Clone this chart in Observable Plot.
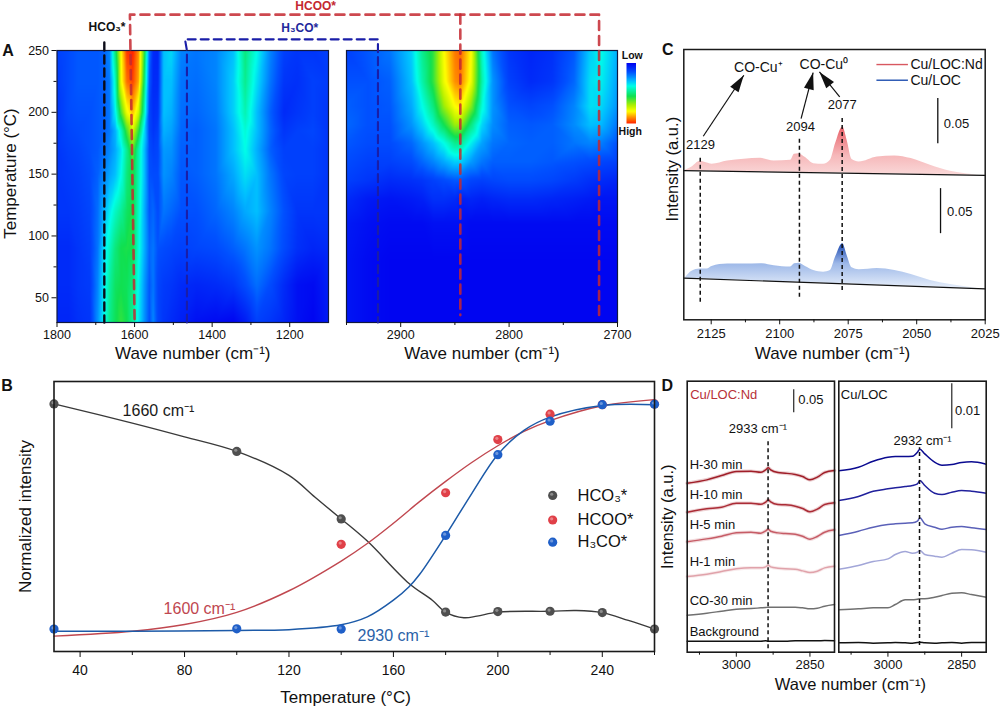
<!DOCTYPE html>
<html><head><meta charset="utf-8">
<script src="https://cdn.jsdelivr.net/npm/d3@7"></script>
<script src="https://cdn.jsdelivr.net/npm/@observablehq/plot@0.6"></script>
<style>html,body{margin:0;padding:0;background:#fff}#fig{position:relative;width:1000px;height:709px;overflow:hidden;background:#fff}</style>
</head><body><div id="fig"></div>
<script>
// ---------- Panel A data ----------
const aLeftWaves=[1800,1770,1745,1715,1695,1680,1665,1650,1635,1620,1605,1590,1575,1562,1552,1540,1525,1505,1480,1440,1390,1345,1315,1285,1250,1215,1180,1140,1100];
const aLeftTemps=[30,60,90,120,150,170,185,200,225,250];
const aLeftValues=[
[.07,.07,.09,.1,.24,.36,.48,.54,.58,.55,.47,.36,.24,.15,.22,.13,.1,.08,.06,.03,.02,.01,.05,.12,.1,.07,.03,.01,.05],
[.08,.08,.1,.11,.22,.35,.46,.53,.55,.54,.5,.37,.25,.16,.2,.13,.11,.1,.08,.07,.08,.1,.14,.19,.14,.08,.03,.02,.06],
[.08,.08,.1,.12,.2,.33,.42,.5,.55,.56,.55,.4,.28,.18,.2,.15,.14,.13,.12,.13,.14,.17,.2,.24,.2,.14,.09,.07,.08],
[.1,.1,.11,.13,.19,.28,.35,.42,.47,.53,.56,.42,.28,.16,.18,.14,.2,.18,.15,.15,.18,.22,.27,.3,.22,.15,.1,.1,.1],
[.1,.11,.12,.14,.17,.22,.26,.3,.38,.5,.57,.44,.3,.15,.14,.14,.24,.22,.16,.17,.2,.27,.34,.3,.2,.13,.12,.12,.1],
[.1,.12,.13,.15,.16,.19,.22,.27,.35,.48,.63,.45,.3,.14,.12,.13,.25,.24,.17,.17,.2,.3,.38,.28,.17,.12,.12,.12,.1],
[.1,.13,.14,.15,.16,.17,.2,.28,.42,.6,.75,.58,.34,.13,.1,.12,.28,.26,.18,.17,.2,.3,.4,.3,.18,.1,.12,.13,.1],
[.1,.14,.15,.15,.16,.17,.2,.36,.6,.78,.86,.74,.44,.13,.09,.1,.3,.28,.19,.18,.21,.32,.44,.3,.17,.08,.1,.12,.1],
[.11,.14,.16,.16,.16,.17,.2,.42,.78,.93,.97,.88,.52,.16,.08,.08,.3,.3,.2,.19,.22,.32,.48,.34,.2,.1,.09,.12,.11],
[.12,.14,.16,.16,.16,.17,.22,.5,.8,.98,1,.9,.58,.2,.08,.07,.3,.33,.22,.2,.22,.3,.5,.38,.22,.12,.1,.1,.12]];
const aRightWaves=[2950,2930,2910,2890,2880,2870,2860,2850,2845,2835,2825,2815,2800,2780,2760,2740,2725,2715,2700];
const aRightTemps=[30,80,110,130,145,160,175,190,205,225,250];
const aRightValues=[
[.04,.02,.01,.01,.01,.01,.01,.01,.01,.01,.01,.01,.01,.01,.01,.01,.01,.01,.01],
[.04,.02,.01,.01,.01,.01,.01,.01,.01,.01,.01,.01,.01,.01,.01,.01,.01,.01,.01],
[.05,.03,.02,.02,.02,.03,.03,.03,.03,.02,.02,.02,.02,.02,.02,.02,.02,.02,.02],
[.08,.05,.04,.05,.06,.09,.09,.08,.06,.07,.06,.07,.08,.08,.07,.06,.05,.04,.04],
[.12,.1,.08,.09,.1,.12,.14,.16,.16,.13,.12,.13,.14,.14,.13,.11,.09,.08,.07],
[.14,.12,.12,.14,.18,.22,.27,.32,.32,.25,.2,.17,.17,.17,.16,.15,.14,.13,.12],
[.16,.14,.14,.18,.24,.3,.38,.48,.48,.36,.26,.2,.18,.17,.17,.2,.22,.21,.15],
[.18,.15,.15,.24,.32,.42,.55,.68,.68,.5,.33,.23,.17,.16,.17,.23,.3,.29,.2],
[.17,.15,.16,.27,.38,.5,.68,.8,.82,.66,.4,.24,.15,.13,.15,.22,.34,.33,.24],
[.15,.15,.17,.3,.45,.58,.78,.9,.92,.78,.45,.24,.12,.08,.1,.18,.34,.36,.26],
[.12,.16,.2,.32,.48,.58,.8,.92,.94,.8,.42,.2,.1,.07,.09,.16,.32,.38,.28]];
const heatStops=[0,.15,.3,.38,.55,.7,.8,.9,1];
const heatColors=["#0000f0","#0050ff","#00c0ff","#00ffe8","#10e050","#b0f000","#ffff00","#ff9000","#ff2000"];

// ---------- Panel B data ----------
const bPointTemps=[30,100,140,180,200,220,240,260];
const bHco3Points=[.917,.741,.491,.146,.148,.149,.144,.083];
const bHcooPoints=[null,null,.397,.588,.785,.879,.914,.917];
const bH3coPoints=[.083,.084,.083,.43,.729,.853,.914,.916];
const bHco3CurveT=[30,60,80,100,120,130,140,150,166,175,180,187,192,200,220,230,240,250,260];
const bHco3Curve=[.917,.846,.795,.741,.652,.571,.491,.409,.252,.189,.146,.125,.131,.146,.149,.152,.144,.115,.083];
const bHcooCurveT=[30,60,80,100,120,140,150,160,170,180,190,200,210,220,240,260];
const bHcooCurve=[.057,.075,.1,.145,.225,.335,.4,.475,.555,.63,.7,.762,.815,.855,.91,.933];
const bH3coCurveT=[30,60,100,120,140,150,160,166,170,180,190,200,210,220,240,260];
const bH3coCurve=[.075,.075,.078,.081,.099,.128,.19,.24,.285,.43,.585,.73,.819,.868,.911,.914];

// ---------- Panel C data ----------
const cWaves=[2134.4,2132,2129,2126.5,2124.7,2119,2113,2107,2102,2096,2094.6,2093,2090.6,2087.6,2084,2081.5,2079.6,2077,2075.4,2073.6,2071,2064.4,2058,2052,2045,2037.7,2031.6,2028];
const cNdSignal=[.1659,.1696,.1759,.174,.1726,.1762,.1781,.1792,.1762,.177,.1837,.1844,.18,.1733,.1726,.177,.1956,.214,.1992,.1778,.1751,.1807,.1818,.1789,.1714,.1648,.1618,.1605];
const cNdBase=[.1655,.1654,.1652,.1651,.165,.1647,.1645,.1642,.1639,.1637,.1636,.1635,.1634,.1633,.1631,.163,.1629,.1628,.1627,.1626,.1625,.1622,.1619,.1616,.1612,.1609,.1606,.1605];
const cLocSignal=[.0467,.054,.0563,.0563,.0592,.0618,.0618,.0622,.06,.0585,.0622,.0629,.0592,.0548,.0529,.0548,.0696,.0844,.0715,.0578,.0556,.057,.0548,.0503,.0437,.0392,.0363,.0347];
const cLocBase=[.0462,.0459,.0456,.0453,.0451,.0445,.0439,.0432,.0427,.042,.0419,.0417,.0414,.0411,.0407,.0404,.0402,.04,.0398,.0396,.0393,.0386,.0379,.0373,.0365,.0357,.0351,.0347];
const cBaselineEnds={wave:[2135,2025],nd:[.1655,.1603],loc:[.0462,.0344]};
const cDrops=[{w:2129,top:.1807,bot:.0196},{w:2092.8,top:.2022,bot:.0251},{w:2077.2,top:.2244,bot:.0326}];
const cArrows=[{w1:2127.9,v1:.2037,w2:2113.1,v2:.2714,a:33.7},{w1:2092.2,v1:.2233,w2:2087.8,v2:.2744,a:14.6},{w1:2078.1,v1:.2473,w2:2085.5,v2:.2751,a:-39}];
const cPeakLabels=[{t:"2129",w:2128.9,v:.1944},{t:"2094",w:2092.4,v:.214},{t:"2077",w:2077.2,v:.2385}];
const cBands=[{t:"CO-Cu⁺",w:2107.8,v:.28},{t:"CO-Cu⁰",w:2083.9,v:.2837}];

// ---------- Panel D data ----------
const dLeftWaves=[3100,3060,3030,3000,2970,2950,2940,2935,2930,2915,2900,2880,2865,2850,2835,2820,2800];
const dLeftNames=["H-30 min","H-10 min","H-5 min","H-1 min","CO-30 min","Background"];
const dLeftValues=[
[507,517,530,542,543,540,547,553,547,539,537,533,527,517,525,539,545],
[420,430,435,447,447,444,450,457,451,443,442,438,431,421,429,443,448],
[331,340,348,358,360,357,364,369,363,358,356,354,348,339,347,360,367],
[227,234,242,250,253,253,256,261,256,252,250,249,244,239,243,253,258],
[111,117,123,129,131,133,134,135,135,135,135,135,133,130,132,138,143],
[33,33,33,33,33,33,34,33,33,33,33,34,34,34,34,35,34]];
const dRightWaves=[3100,3060,3030,3000,2985,2965,2950,2940,2935,2925,2905,2890,2870,2850,2830,2800];
const dRightValues=[
[544,555,573,585,587,587,588,600,609,595,570,561,563,569,571,564],
[455,467,483,490,493,497,500,505,515,500,477,473,480,485,483,477],
[350,363,375,383,385,387,388,393,403,385,375,369,375,377,373,368],
[249,260,272,280,293,302,297,300,305,293,288,285,297,308,307,300],
[127,130,133,133,143,157,157,159,160,160,165,170,177,178,173,165],
[28,29,27,28,29,28,27,29,30,28,27,28,29,27,29,29]];
const dLabelLevels=[562,472,382,272,153,60];
const dLeftColors=["#a01e28","#ab2c36","#c65c66","#e0a2aa","#707070","#111"];
const dRightColors=["#0a0a90","#20209c","#5a60b8","#a2a6d8","#707070","#111"];

// ---------- helpers ----------
const font="'Liberation Sans',Arial,sans-serif";
const fig=document.getElementById("fig");
const base={background:"transparent",overflow:"visible",fontFamily:font,color:"#111"};
function place(plot,left,top){plot.style.position="absolute";plot.style.left=left+"px";plot.style.top=top+"px";plot.style.maxWidth="none";fig.appendChild(plot);return plot;}
function grid(waves,temps,values){return temps.flatMap((t,i)=>waves.map((w,j)=>({w,t,v:values[i][j]})));}
function zipXY(xs,ys){return xs.map((x,i)=>({x,y:ys[i]})).filter(d=>d.y!=null);}
const heatColor={type:"linear",domain:heatStops,range:heatColors,clamp:true};
function ticksX(major,minor,fs,pad,size=5){return [
  Plot.axisX({ticks:minor,tickSize:size-2,tickFormat:()=>"",label:null}),
  Plot.axisX({ticks:major,tickSize:size,tickPadding:pad,tickFormat:"d",fontSize:fs,label:null})];}
const labelX=(t,dy,dx=0,fs=17)=>Plot.text([t],{frameAnchor:"bottom",lineAnchor:"middle",dy,dx,fontSize:fs,fill:"#111"});
const labelY=(t,dx,dy=0,fs=17)=>Plot.text([t],{frameAnchor:"left",textAnchor:"middle",dx,dy,rotate:-90,fontSize:fs,fill:"#111"});
const letter=(t,dx,dy)=>Plot.text([t],{frameAnchor:"top-left",textAnchor:"middle",lineAnchor:"middle",dx,dy,fontSize:16,fontWeight:"bold",fill:"#111"});

// ---------- Panel A ----------
const aLeft=place(Plot.plot({width:340,height:360,marginLeft:56.5,marginRight:12,marginTop:50,marginBottom:38,style:base,
  x:{domain:[1800,1100],axis:null},y:{domain:[30,250],axis:null},color:heatColor,
  marks:[
    Plot.raster(grid(aLeftWaves,aLeftTemps,aLeftValues),{x:"w",y:"t",fill:"v",interpolate:"barycentric"}),
    Plot.frame({stroke:"#101840",strokeWidth:1.2}),
    ...ticksX([1800,1600,1400,1200],[1700,1500,1300],12.5,3),
    Plot.axisY({ticks:[75,125,175,225],tickSize:3,tickFormat:()=>"",label:null}),
    Plot.axisY({ticks:[50,100,150,200,250],tickSize:5,tickPadding:3,tickFormat:"d",fontSize:12.5,label:null}),
    labelX("Wave number (cm⁻¹)",31),
    labelY("Temperature (°C)",-46,-13),
    letter("A",-49,0)
  ]}),0,0);
const aRight=place(Plot.plot({width:290,height:360,marginLeft:16,marginRight:3,marginTop:50,marginBottom:38,style:base,
  x:{domain:[2950,2700],axis:null},y:{domain:[30,250],axis:null},color:heatColor,
  marks:[
    Plot.raster(grid(aRightWaves,aRightTemps,aRightValues),{x:"w",y:"t",fill:"v",interpolate:"barycentric"}),
    Plot.frame({stroke:"#101840",strokeWidth:1.2}),
    ...ticksX([2900,2800,2700],[2950,2850,2750],12.5,3),
    labelX("Wave number (cm⁻¹)",31)
  ]}),330,0);
// colour key
place(Plot.plot({width:60,height:100,marginLeft:20,marginRight:30.5,marginTop:17.5,marginBottom:22,style:base,
  x:{domain:[0,1],axis:null},y:{domain:[1,0],axis:null},color:heatColor,
  marks:[
    Plot.raster({x1:0,x2:1,y1:1,y2:0,fill:(x,y)=>y,pixelSize:1}),
    Plot.text(["Low"],{frameAnchor:"top",lineAnchor:"middle",dy:-7,dx:1,fontSize:10.5,fontWeight:"bold",fill:"#111"}),
    Plot.text(["High"],{frameAnchor:"bottom",lineAnchor:"middle",dy:8,dx:-1,fontSize:10.5,fontWeight:"bold",fill:"#111"})
  ]}),606,45);

// bracket overlay: positions come from the panels' own scales
const xL=aLeft.scale("x").apply, xR=w=>aRight.scale("x").apply(w)+330, yA=aLeft.scale("y").apply;
const seg=(pts)=>pts.map(([px,py])=>({x:px,y:py}));
const redY=yA(279),blueY=yA(259),blackY=yA(256.5),tipY=yA(30),endY=yA(36);
const redLine=[[xL(1600),endY+4],[xL(1612),redY],[xR(2845),redY],[xR(2717),redY],[xR(2717),endY]];
const redMid=[[xR(2845),redY],[xR(2845),endY]];
const blueLine=[[xL(1465),tipY],[xL(1465),yA(250)],[xL(1470),blueY],[xR(2921),blueY],[xR(2921),yA(250)],[xR(2921),tipY]];
const blackLine=[[xL(1678),blackY],[xL(1678),tipY]];
const overlay=place(Plot.plot({width:1000,height:709,margin:0,style:base,
  x:{type:"identity",axis:null},y:{type:"identity",axis:null},
  marks:[
    Plot.line(seg(blackLine),{x:"x",y:"y",stroke:"#0c0c18",strokeWidth:2.4,strokeDasharray:"8,5"}),
    Plot.line(seg(blueLine),{x:"x",y:"y",stroke:"#1a1ea8",strokeWidth:2.1,strokeDasharray:"8,5"}),
    Plot.line(seg(redLine),{x:"x",y:"y",stroke:"#c42830",strokeOpacity:.85,strokeWidth:2.6,strokeDasharray:"9,6"}),
    Plot.line(seg(redMid),{x:"x",y:"y",stroke:"#c42830",strokeOpacity:.85,strokeWidth:2.6,strokeDasharray:"9,6"}),
    Plot.text(["HCO₃*"],{x:()=>xL(1671),y:()=>yA(268.7),fontSize:12,fontWeight:"bold",fill:"#111"}),
    Plot.text(["HCOO*"],{x:()=>xL(1133),y:()=>yA(285.7),fontSize:12,fontWeight:"bold",fill:"#c42830"}),
    Plot.text(["H₃CO*"],{x:()=>xL(1174),y:()=>yA(267.9),fontSize:12,fontWeight:"bold",fill:"#22289c"})
  ]}),0,0);

// ---------- Panel B ----------
const bColors={hco3:"#4f4f4f",hcoo:"#e04048",h3co:"#1f5fc8"};
const bLines={hco3:"#3a3a3a",hcoo:"#c0474f",h3co:"#1c5aa8"};
const ball=(rows,c)=>[Plot.dot(rows,{x:"x",y:"y",r:4.6,fill:c,stroke:"none"}),
                      Plot.dot(rows,{x:"x",y:"y",r:1.6,dx:-1,dy:-1.2,fill:"#fff",fillOpacity:.35,stroke:"none"})];
const legendRows=[{name:"HCO₃*",v:.578,c:bColors.hco3},{name:"HCOO*",v:.487,c:bColors.hcoo},{name:"H₃CO*",v:.405,c:bColors.h3co}];
place(Plot.plot({width:668,height:339,marginLeft:53.5,marginRight:14,marginTop:11,marginBottom:58,style:base,
  x:{domain:[30,260],axis:null},y:{domain:[0,1],axis:null},
  marks:[
    Plot.line(zipXY(bHco3CurveT,bHco3Curve),{x:"x",y:"y",stroke:bLines.hco3,strokeWidth:1.4,curve:"catmull-rom"}),
    Plot.line(zipXY(bHcooCurveT,bHcooCurve),{x:"x",y:"y",stroke:bLines.hcoo,strokeWidth:1.4,curve:"catmull-rom"}),
    Plot.line(zipXY(bH3coCurveT,bH3coCurve),{x:"x",y:"y",stroke:bLines.h3co,strokeWidth:1.5,curve:"catmull-rom"}),
    ...ball(zipXY(bPointTemps,bHco3Points),bColors.hco3),
    ...ball(zipXY(bPointTemps,bHcooPoints),bColors.hcoo),
    ...ball(zipXY(bPointTemps,bH3coPoints),bColors.h3co),
    Plot.frame({stroke:"#1a1a1a",strokeWidth:1.6}),
    ...ticksX([40,80,120,160,200,240],[60,100,140,180,220,260],14,8,6),
    ...legendRows.flatMap(d=>ball([{x:221,y:d.v}],d.c)),
    Plot.text(legendRows,{x:()=>230.5,y:"v",text:"name",textAnchor:"start",fontSize:16.5,fill:"#111"}),
    Plot.text(["1660 cm⁻¹"],{x:()=>70,y:()=>.893,fontSize:16,fill:"#1a1a1a"}),
    Plot.text(["1600 cm⁻¹"],{x:()=>85.7,y:()=>.159,fontSize:16,fill:"#c0474f"}),
    Plot.text(["2930 cm⁻¹"],{x:()=>160,y:()=>.059,fontSize:16,fill:"#2a62a8"}),
    labelX("Temperature (°C)",46,-8.7),
    labelY("Normalized intensity",-28.5),
    letter("B",-47,4)
  ]}),0,370);

// ---------- Panel C ----------
const ndRows=cWaves.map((w,i)=>({w,top:cNdSignal[i],bot:cNdBase[i]}));
const locRows=cWaves.map((w,i)=>({w,top:cLocSignal[i],bot:cLocBase[i]}));
const headShape={draw(ctx,l,r){ctx.moveTo(0,-l);ctx.lineTo(-r,0);ctx.lineTo(r,0);ctx.closePath();}};
function gradient(id,stops){
  const defs=d3.create("svg:defs"), g=defs.append("linearGradient").attr("id",id).attr("x1",0).attr("x2",0).attr("y1",0).attr("y2",1);
  stops.forEach(([o,c])=>g.append("stop").attr("offset",o).attr("stop-color",c));
  return ()=>defs.node();
}
const legendC=[{t:"Cu/LOC:Nd",v:.2833,c:"#d85860"},{t:"Cu/LOC",v:.2659,c:"#2050b0"}];
const scaleBarsC=[{w:2042.3,top:.2456,bot:.1955,tw:2040.1,tv:.217},{w:2041.3,top:.1456,bot:.0956,tw:2038.9,tv:.1196}];
place(Plot.plot({width:350,height:340,marginLeft:33.3,marginRight:15.3,marginTop:19,marginBottom:50.7,style:base,
  x:{domain:[2135,2025],axis:null},y:{domain:[0,.3],axis:null},
  marks:[
    gradient("ndFill",[[0,"#e86068"],[.6,"#f6b8ba"],[1,"#fad8d8"]]),
    gradient("locFill",[[0,"#1a48b0"],[.45,"#9db8e8"],[1,"#e6eefa"]]),
    Plot.areaY(ndRows,{x:"w",y1:"bot",y2:"top",fill:"url(#ndFill)",curve:"monotone-x"}),
    Plot.areaY(locRows,{x:"w",y1:"bot",y2:"top",fill:"url(#locFill)",curve:"monotone-x"}),
    Plot.line(zipXY(cBaselineEnds.wave,cBaselineEnds.nd),{x:"x",y:"y",stroke:"#111",strokeWidth:1.2}),
    Plot.line(zipXY(cBaselineEnds.wave,cBaselineEnds.loc),{x:"x",y:"y",stroke:"#111",strokeWidth:1.2}),
    Plot.ruleX(cDrops,{x:"w",y1:"bot",y2:"top",stroke:"#111",strokeWidth:1.5,strokeDasharray:"4,3"}),
    Plot.link(cArrows,{x1:"w1",y1:"v1",x2:"w2",y2:"v2",stroke:"#111",strokeWidth:1.2}),
    Plot.vector(cArrows,{x:"w2",y:"v2",rotate:"a",length:17,r:5,shape:headShape,anchor:"end",fill:"#111",stroke:"none"}),
    Plot.text(cPeakLabels,{x:"w",y:"v",text:"t",fontSize:13,fill:"#111"}),
    Plot.text(cBands,{x:"w",y:"v",text:"t",fontSize:14,fill:"#111"}),
    Plot.link(legendC,{x1:()=>2064.7,x2:()=>2053.2,y1:"v",y2:"v",stroke:"c",strokeWidth:1.4}),
    Plot.text(legendC,{x:()=>2052.3,y:"v",text:"t",textAnchor:"start",fontSize:14,fill:"#111"}),
    Plot.ruleX(scaleBarsC,{x:"w",y1:"bot",y2:"top",stroke:"#111",strokeWidth:1.3}),
    Plot.text(scaleBarsC,{x:"tw",y:"tv",text:()=>"0.05",textAnchor:"start",fontSize:13,fill:"#111"}),
    Plot.frame({stroke:"#1a1a1a",strokeWidth:1.5}),
    ...ticksX([2125,2100,2075,2050,2025],[2112.5,2087.5,2062.5,2037.5],13,4),
    labelX("Wave number (cm⁻¹)",33.5,-2),
    labelY("Intensity (a.u.)",-11,-15.5,16.5),
    letter("C",-16,0)
  ]}),650,30);

// ---------- Panel D ----------
function traces(waves,values,colors,halo){
  return values.flatMap((vals,i)=>{
    const rows=zipXY(waves,vals), out=[];
    if(halo&&i<4) out.push(Plot.line(rows,{x:"x",y:"y",stroke:colors[i],strokeOpacity:.22,strokeWidth:3.6,curve:"monotone-x"}));
    out.push(Plot.line(rows,{x:"x",y:"y",stroke:colors[i],strokeWidth:1.5,curve:"monotone-x"}));
    return out;
  });
}
const dLabelRows=dLeftNames.map((t,i)=>({t,v:dLabelLevels[i]}));
place(Plot.plot({width:180,height:339,marginLeft:26.7,marginRight:6,marginTop:10.7,marginBottom:57.3,style:base,
  x:{domain:[3100,2800],axis:null},y:{domain:[0,813],axis:null},
  marks:[
    ...traces(dLeftWaves,dLeftValues,dLeftColors,true),
    Plot.ruleX([2935.3],{y1:()=>10,y2:()=>633,stroke:"#111",strokeWidth:1.5,strokeDasharray:"4,3"}),
    Plot.text(dLabelRows,{x:()=>3095,y:"v",text:"t",textAnchor:"start",fontSize:13,fill:"#111"}),
    Plot.text(["Cu/LOC:Nd"],{x:()=>3094,y:()=>772,textAnchor:"start",fontSize:13,fill:"#b83038"}),
    Plot.ruleX([2883],{y1:()=>718,y2:()=>787,stroke:"#111",strokeWidth:1.1}),
    Plot.text(["0.05"],{x:()=>2874,y:()=>757,textAnchor:"start",fontSize:13,fill:"#111"}),
    Plot.text(["2933 cm⁻¹"],{x:()=>2956,y:()=>670,fontSize:13,fill:"#111"}),
    Plot.frame({stroke:"#1a1a1a",strokeWidth:1.6}),
    ...ticksX([3000,2850],[3075,2925],13,3),
    labelX("Wave number (cm⁻¹)",32.5,89.6,16.5),
    labelY("Intensity (a.u.)",-19,0,16.5),
    letter("D",-20,5)
  ]}),660,370);
place(Plot.plot({width:160,height:339,marginLeft:8.3,marginRight:4.3,marginTop:10.7,marginBottom:57.3,style:base,
  x:{domain:[3100,2800],axis:null},y:{domain:[0,813],axis:null},
  marks:[
    ...traces(dRightWaves,dRightValues,dRightColors,false),
    Plot.ruleX([2935.7],{y1:()=>20,y2:()=>613,stroke:"#111",strokeWidth:1.5,strokeDasharray:"4,3"}),
    Plot.text(["Cu/LOC"],{x:()=>3096,y:()=>772,textAnchor:"start",fontSize:13,fill:"#111"}),
    Plot.ruleX([2870],{y1:()=>670,y2:()=>805,stroke:"#111",strokeWidth:1.1}),
    Plot.text(["0.01"],{x:()=>2863.5,y:()=>725,textAnchor:"start",fontSize:13,fill:"#111"}),
    Plot.text(["2932 cm⁻¹"],{x:()=>2929.6,y:()=>633,fontSize:13,fill:"#111"}),
    Plot.frame({stroke:"#1a1a1a",strokeWidth:1.6}),
    ...ticksX([3000,2850],[3075,2925],13,3)
  ]}),830,370);
fig.appendChild(overlay);
</script></body></html>
